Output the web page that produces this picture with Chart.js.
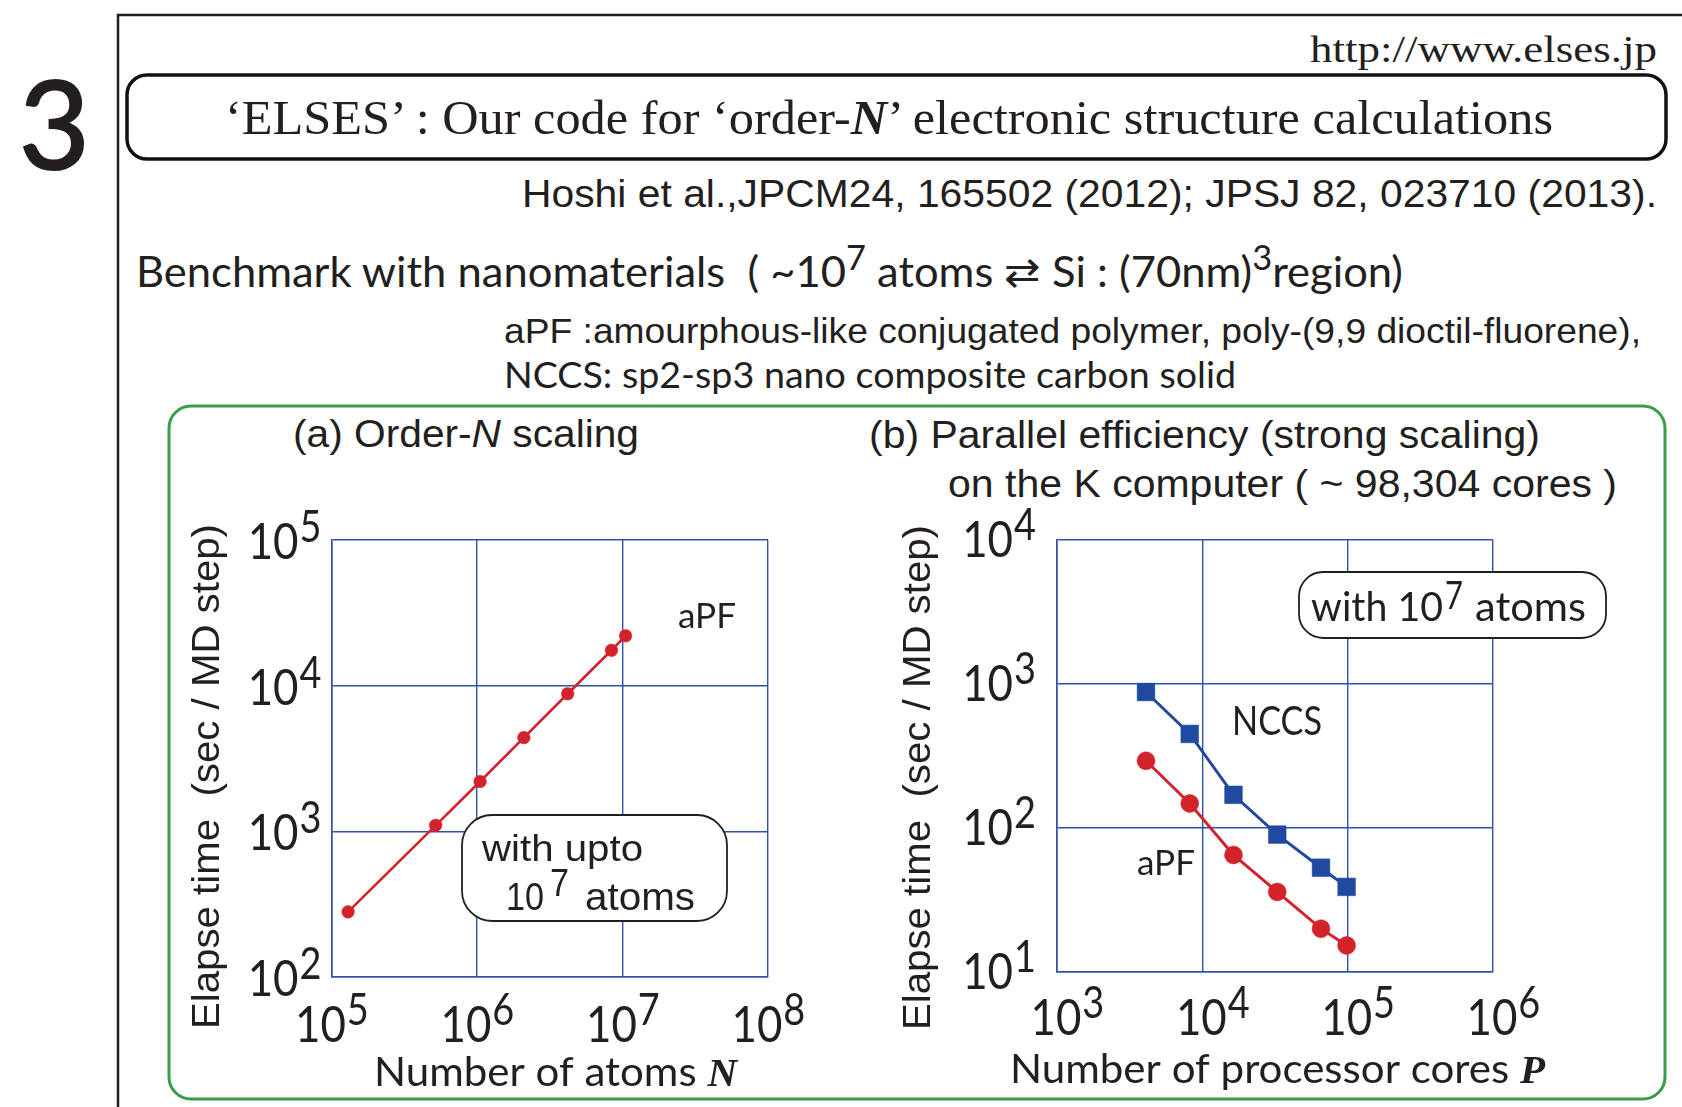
<!DOCTYPE html>
<html>
<head>
<meta charset="utf-8">
<title>ELSES benchmark</title>
<script src="https://cdn.jsdelivr.net/npm/chart.js@4.4.1/dist/chart.umd.min.js"></script>
<style>
  html, body { margin: 0; padding: 0; background: #fff; }
  #page { position: relative; width: 1682px; height: 1107px; overflow: hidden; background: #fff; }
  #deco { position: absolute; left: 0; top: 0; }
  #deco text { white-space: pre; }
  canvas { position: absolute; }
  #chartA { left: 168px; top: 500px; }
  #chartB { left: 820px; top: 500px; }
</style>
</head>
<body>
<div id="page">
<svg id="deco" width="1682" height="1107">
  <g fill="none">
    <path d="M118 1107 V15 H1682" stroke="#231f20" stroke-width="2.5"/>
    <rect x="127" y="75" width="1539" height="84" rx="20" stroke="#111" stroke-width="3.5"/>
    <rect x="169" y="406" width="1496" height="693" rx="22" stroke="#3a9e45" stroke-width="3"/>
  </g>
  <g fill="#231f20">
    <text x="19" y="169" font-family="Lato" font-size="122" stroke="#231f20" stroke-width="2.2">3</text>
    <text x="1657" y="62" text-anchor="end" font-family="Liberation Serif" font-size="37" textLength="347" lengthAdjust="spacingAndGlyphs">http://www.elses.jp</text>
    <text x="225" y="134" font-family="Liberation Serif" font-size="48" textLength="1328" lengthAdjust="spacingAndGlyphs">‘ELSES’ : Our code for ‘order-<tspan font-weight="bold" font-style="italic">N</tspan>’ electronic structure calculations</text>
    <text x="1657" y="207" text-anchor="end" font-family="Liberation Sans" font-size="38" textLength="1135" lengthAdjust="spacingAndGlyphs">Hoshi et al.,JPCM24, 165502 (2012); JPSJ 82, 023710 (2013).</text>
    <text x="136" y="287" font-family="Lato" font-size="43" textLength="1267" lengthAdjust="spacingAndGlyphs">Benchmark with nanomaterials  ( ~10<tspan dy="-17" font-size="34">7</tspan><tspan dy="17"> atoms ⇄ Si : (70nm)</tspan><tspan dy="-17" font-size="34">3</tspan><tspan dy="17">region)</tspan></text>
    <text x="504" y="343" font-family="Liberation Sans" font-size="35" textLength="1137" lengthAdjust="spacingAndGlyphs">aPF :amourphous-like conjugated polymer, poly-(9,9 dioctil-fluorene),</text>
    <text x="504" y="388" font-family="Lato" font-size="37" textLength="732" lengthAdjust="spacingAndGlyphs">NCCS: sp2-sp3 nano composite carbon solid</text>
    <text x="293" y="447" font-family="Liberation Sans" font-size="38" textLength="346" lengthAdjust="spacingAndGlyphs">(a) Order-<tspan font-style="italic">N</tspan> scaling</text>
    <text x="869" y="448" font-family="Liberation Sans" font-size="38" textLength="671" lengthAdjust="spacingAndGlyphs">(b) Parallel efficiency (strong scaling)</text>
    <text x="948" y="497" font-family="Liberation Sans" font-size="38" textLength="669" lengthAdjust="spacingAndGlyphs">on the K computer ( ~ 98,304 cores )</text>
  </g>
</svg>
<canvas id="chartA" width="640" height="600"></canvas>
<canvas id="chartB" width="846" height="600"></canvas>
</div>
<script>
// (a) order-N scaling, aPF
const atomsN = [1.3e5, 5.2e5, 1.05e6, 2.1e6, 4.2e6, 8.4e6, 1.05e7];
const timeOrderN = [280, 1100, 2200, 4400, 8800, 17500, 22000];
// (b) strong scaling with 10^7 atoms
const cores = [4096, 8192, 16384, 32768, 65536, 98304];
const timeNCCS = [880, 450, 170, 90, 53, 39];
const timeAPF = [293, 148, 65, 36, 20, 15.3];
// axis ticks
const ticksAx = [1e5, 1e6, 1e7, 1e8];
const ticksAy = [1e2, 1e3, 1e4, 1e5];
const ticksBx = [1e3, 1e4, 1e5, 1e6];
const ticksBy = [1e1, 1e2, 1e3, 1e4];

const RED = '#d2232a', BLUE = '#1f4aa0', GRID = '#2f52ad', INK = '#231f20';
const MYR = 'Lato, "Open Sans", sans-serif';
const HEL = '"Liberation Sans", Arial, sans-serif';

// text squeezed/stretched to a given width
function fitText(ctx, txt, x, y, w) {
  const m = ctx.measureText(txt).width;
  const s = w ? w / m : 1;
  ctx.save();
  ctx.translate(x, y);
  ctx.scale(s, 1);
  ctx.textAlign = 'left';
  ctx.fillText(txt, 0, 0);
  ctx.restore();
  return m * s;
}

// "10" with a raised exponent, squeezed a little like the original face
function powLabel(ctx, x, y, exp, align) {
  const sx = 0.86;
  ctx.font = '51px ' + MYR;
  const w1 = ctx.measureText('10').width;
  ctx.font = '44px ' + MYR;
  const w2 = ctx.measureText(String(exp)).width;
  const tot = (w1 + w2) * sx;
  let left = x;
  if (align === 'right') left = x - tot;
  if (align === 'center') left = x - tot / 2;
  ctx.save();
  ctx.translate(left, y);
  ctx.scale(sx, 1);
  ctx.textAlign = 'left';
  ctx.font = '51px ' + MYR;
  ctx.fillText('10', 0, 0);
  ctx.font = '44px ' + MYR;
  ctx.fillText(String(exp), w1 + 1, -17);
  ctx.restore();
}

function roundBox(ctx, x0, y0, x1, y1, r) {
  ctx.beginPath();
  ctx.moveTo(x0 + r, y0);
  ctx.lineTo(x1 - r, y0);
  ctx.arcTo(x1, y0, x1, y0 + r, r);
  ctx.lineTo(x1, y1 - r);
  ctx.arcTo(x1, y1, x1 - r, y1, r);
  ctx.lineTo(x0 + r, y1);
  ctx.arcTo(x0, y1, x0, y1 - r, r);
  ctx.lineTo(x0, y0 + r);
  ctx.arcTo(x0, y0, x0 + r, y0, r);
  ctx.closePath();
  ctx.fillStyle = '#fff';
  ctx.fill();
  ctx.strokeStyle = INK;
  ctx.lineWidth = 1.8;
  ctx.stroke();
}

const deco = {
  id: 'deco',
  beforeDatasetsDraw(chart, args, o) {
    const ctx = chart.ctx;
    ctx.save();
    o.box(ctx, o.ox, o.oy);
    ctx.restore();
  },
  afterDraw(chart, args, o) {
    const ctx = chart.ctx, xs = chart.scales.x, ys = chart.scales.y, a = chart.chartArea;
    ctx.save();
    ctx.fillStyle = INK;
    ctx.textBaseline = 'alphabetic';
    xs.ticks.forEach(t => powLabel(ctx, xs.getPixelForValue(t.value) + o.xShift, a.bottom + o.xDrop,
      Math.round(Math.log10(t.value)), 'center'));
    ys.ticks.forEach(t => powLabel(ctx, a.left - o.yGap, ys.getPixelForValue(t.value) + o.yDrop,
      Math.round(Math.log10(t.value)), 'right'));
    // y title
    ctx.save();
    ctx.translate(o.yTitle[0] - o.ox, o.yTitle[1] - o.oy);
    ctx.rotate(-Math.PI / 2);
    ctx.font = '38px ' + HEL;
    ctx.textBaseline = 'middle';
    fitText(ctx, 'Elapse time  (sec / MD step)', -252, 0, 505);
    ctx.restore();
    // x title
    ctx.font = 'bold italic 41px "Liberation Serif", serif';
    const wv = ctx.measureText(o.xVar).width;
    ctx.font = '40px ' + MYR;
    const used = fitText(ctx, o.xText, o.xTitle[0] - o.ox, o.xTitle[1] - o.oy, o.xTitle[2] - wv);
    ctx.font = 'bold italic 41px "Liberation Serif", serif';
    ctx.fillText(o.xVar, o.xTitle[0] - o.ox + used, o.xTitle[1] - o.oy);
    // series labels
    o.labels.forEach(l => {
      ctx.font = l[4] + 'px ' + MYR;
      fitText(ctx, l[0], l[1] - o.ox, l[2] - o.oy, l[3]);
    });
    ctx.restore();
  }
};

function makeChart(id, datasets, xt, yt, pad, deco_opts) {
  return new Chart(document.getElementById(id), {
    type: 'line',
    data: { datasets },
    options: {
      responsive: false,
      animation: false,
      layout: { padding: pad, autoPadding: false },
      plugins: { legend: { display: false }, tooltip: { enabled: false }, deco: deco_opts },
      scales: {
        x: {
          type: 'logarithmic', min: xt[0], max: xt[xt.length - 1],
          afterBuildTicks: s => { s.ticks = xt.map(v => ({ value: v })); },
          ticks: { display: false },
          grid: { color: GRID, lineWidth: 1.4, drawTicks: false },
          border: { display: true, color: GRID, width: 1.6 }
        },
        y: {
          type: 'logarithmic', min: yt[0], max: yt[yt.length - 1],
          afterBuildTicks: s => { s.ticks = yt.map(v => ({ value: v })); },
          ticks: { display: false },
          grid: { color: GRID, lineWidth: 1.4, drawTicks: false },
          border: { display: true, color: GRID, width: 1.6 }
        }
      }
    },
    plugins: [deco]
  });
}

function series(xs, ys, color, style, r, lw) {
  return {
    data: xs.map((x, i) => ({ x, y: ys[i] })),
    borderColor: color, backgroundColor: color,
    borderWidth: lw, tension: 0,
    pointStyle: style, pointRadius: r, pointBorderWidth: 0.5, pointBorderColor: color,
    pointBackgroundColor: color
  };
}

// (a)
makeChart('chartA',
  [series(atomsN, timeOrderN, RED, 'circle', 6.3, 2.6)],
  ticksAx, ticksAy,
  { left: 163.5, top: 40, right: 40, bottom: 123 },
  {
    ox: 168, oy: 500, xShift: 0, xDrop: 65, yGap: 11, yDrop: 19,
    yTitle: [209, 777], xTitle: [374, 1086, 363], xText: 'Number of atoms ', xVar: 'N',
    labels: [['aPF', 678, 628, 58, 34]],
    box(ctx, ox, oy) {
      roundBox(ctx, 462 - ox, 815 - oy, 727 - ox, 921 - oy, 30);
      ctx.fillStyle = INK;
      ctx.font = '36px ' + HEL;
      fitText(ctx, 'with upto', 482 - ox, 861 - oy, 161);
      ctx.font = '38px ' + HEL;
      fitText(ctx, '10', 506 - ox, 910 - oy, 38);
      fitText(ctx, '7', 550 - ox, 896 - oy, 19);
      fitText(ctx, 'atoms', 585 - ox, 910 - oy, 110);
    }
  });

// (b)
makeChart('chartB',
  [series(cores, timeNCCS, BLUE, 'rect', 12.5, 3),
   series(cores, timeAPF, RED, 'circle', 9, 3)],
  ticksBx, ticksBy,
  { left: 237, top: 40, right: 173, bottom: 128 },
  {
    ox: 820, oy: 500, xShift: 10, xDrop: 63, yGap: 22, yDrop: 17,
    yTitle: [920, 778], xTitle: [1010, 1083, 535], xText: 'Number of processor cores ', xVar: 'P',
    labels: [['NCCS', 1232, 735, 90, 40], ['aPF', 1137, 875, 58, 35]],
    box(ctx, ox, oy) {
      roundBox(ctx, 1299 - ox, 572 - oy, 1606 - ox, 638 - oy, 24);
      ctx.fillStyle = INK;
      ctx.font = '40px ' + MYR;
      fitText(ctx, 'with 10', 1311 - ox, 621 - oy, 132);
      ctx.font = '38px ' + MYR;
      fitText(ctx, '7', 1445 - ox, 609 - oy, 18);
      ctx.font = '40px ' + MYR;
      fitText(ctx, 'atoms', 1475 - ox, 621 - oy, 111);
    }
  });
</script>
</body>
</html>
